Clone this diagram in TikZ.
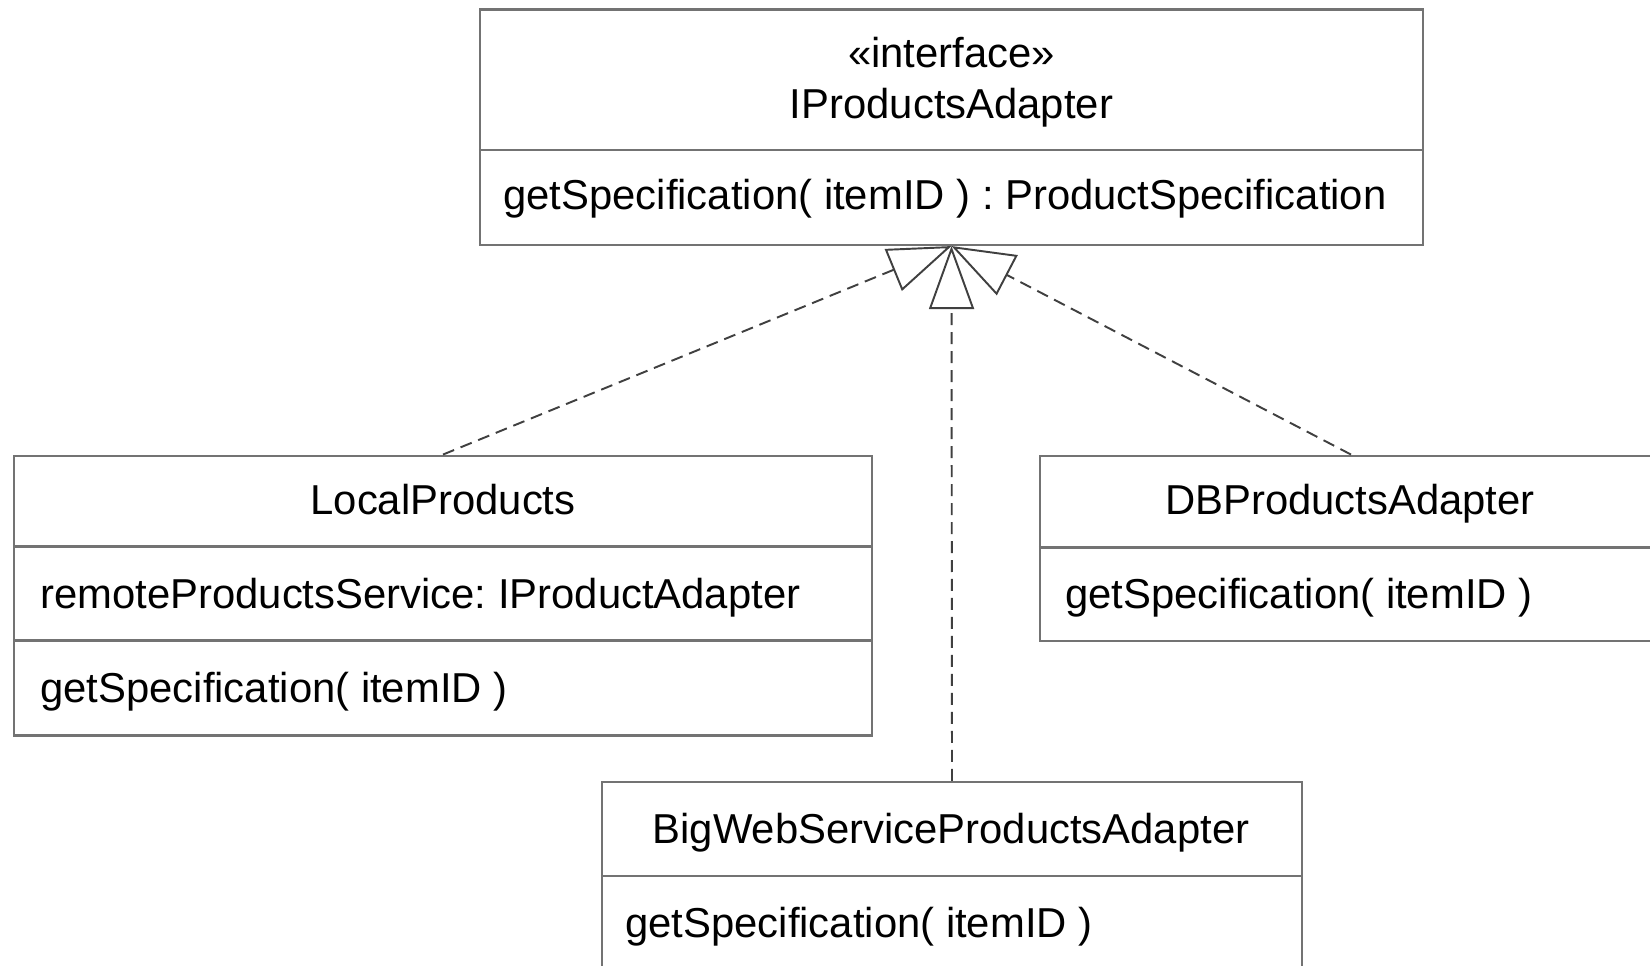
\documentclass[tikz,border=0pt]{standalone}
\usepackage{fontspec}
\setmainfont{Liberation Sans}
\usetikzlibrary{arrows.meta,fit}
\frenchspacing

\tikzset{
  classbox/.style={draw=black!55, line width=1.2pt, inner sep=0pt, fill=none},
  divider/.style={draw=black!55, line width=1.2pt},
  label/.style={inner sep=0pt, text=black, font=\fontsize{23.8}{28}\selectfont},
  titletext/.style={label, anchor=base},
  membertext/.style={label, anchor=base west},
  realizes/.style={draw=black!75, line width=1.1pt, dash pattern=on 0.24cm off 0.14cm,
    -{Triangle[open, length=1.26cm, width=0.9cm, line width=1.1pt]}}
}

\begin{document}
\begin{tikzpicture}[x=0.02cm, y=-0.02cm]
  \useasboundingbox (0,0) rectangle (1650,965);
  \clip (0,0) rectangle (1650,965);

  % class outlines
  \node[classbox, fit={(480,9.5)(1423,245)}] (iface) {};
  \node[classbox, fit={(14,455.6)(872,735.5)}] (local) {};
  \node[classbox, fit={(1040,455.6)(1662,641)}] (db) {};
  \node[classbox, fit={(602,782)(1302,1010)}] (web) {};

  % compartment separators
  \draw[divider] ([yshift=-2.84cm]iface.north west) -- ([yshift=-2.84cm]iface.north east);
  \draw[divider] ([yshift=-1.84cm]local.north west) -- ([yshift=-1.84cm]local.north east);
  \draw[divider] ([yshift=-3.72cm]local.north west) -- ([yshift=-3.72cm]local.north east);
  \draw[divider] ([yshift=-1.86cm]db.north west) -- ([yshift=-1.86cm]db.north east);
  \draw[divider] ([yshift=-1.90cm]web.north west) -- ([yshift=-1.90cm]web.north east);

  % interface
  \node[titletext] (ifstereo) at (951.5,67) {«interface»};
  \node[titletext] (ifname) at (951.5,118) {IProductsAdapter};
  \node[membertext] (ifop) at (503,209) {getSpecification( itemID ) : ProductSpecification};

  % LocalProducts
  \node[titletext] (lpname) at (443,514) {LocalProducts};
  \node[membertext] (lpattr) at (40,608) {remoteProductsService: IProductAdapter};
  \node[membertext] (lpop) at (40,702) {getSpecification( itemID )};

  % DBProductsAdapter
  \node[titletext] (dbname) at (1350,514) {DBProductsAdapter};
  \node[membertext] (dbop) at (1065,608) {getSpecification( itemID )};

  % BigWebServiceProductsAdapter
  \node[titletext] (webname) at (951,843) {BigWebServiceProductsAdapter};
  \node[membertext] (webop) at (625,937) {getSpecification( itemID )};

  % realization arrows
  \coordinate (apex) at (iface.south);
  \draw[realizes] (local.north) -- (apex);
  \draw[realizes] (db.north) -- (apex);
  \draw[realizes] (web.north) -- (apex);
\end{tikzpicture}
\end{document}
